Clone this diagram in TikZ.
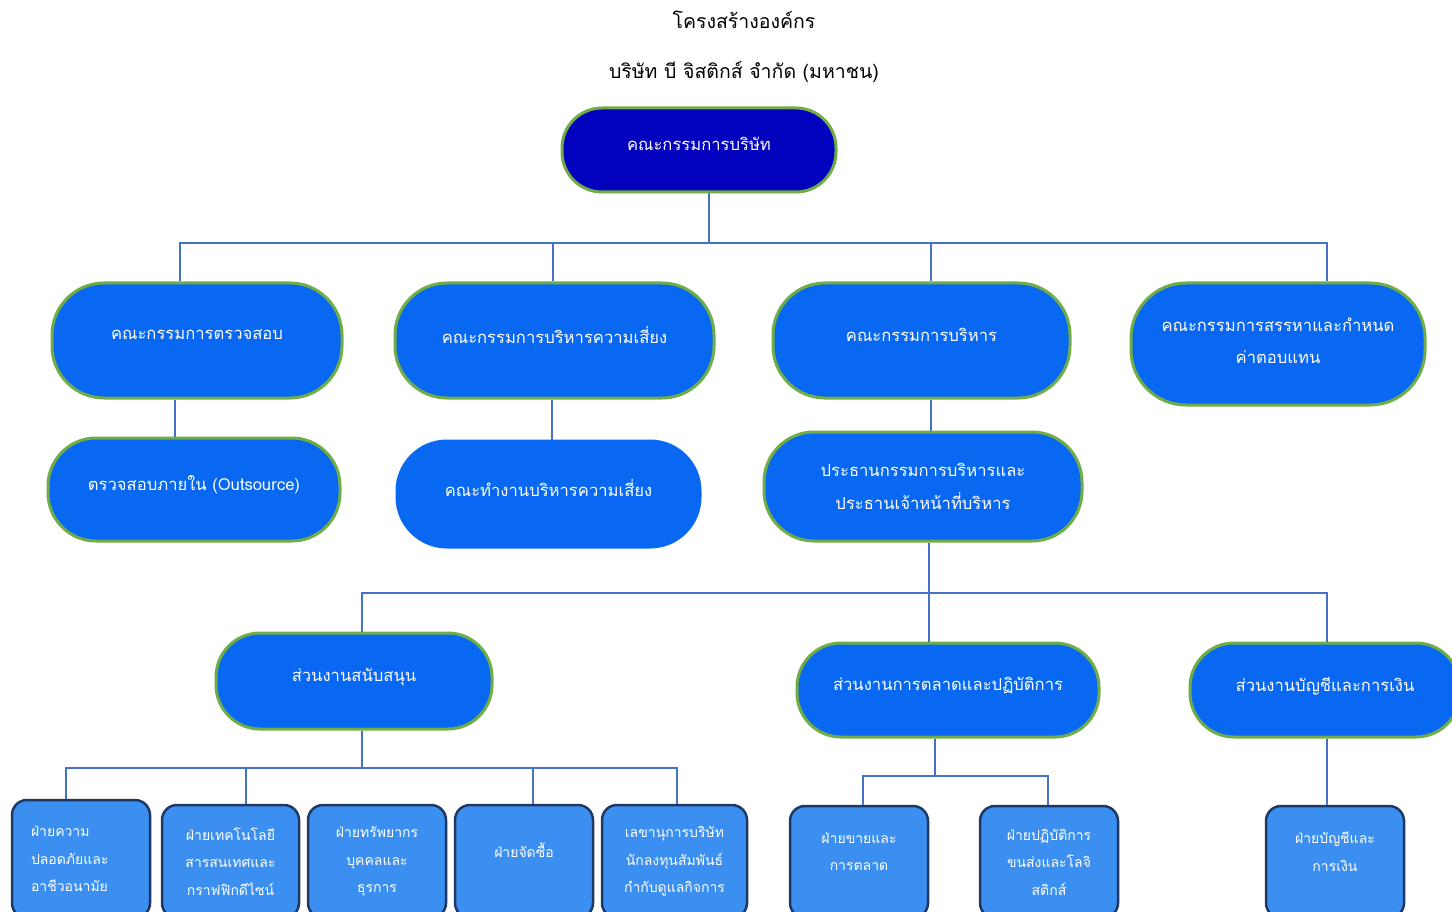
\documentclass[tikz,border=0pt]{standalone}
\usepackage{fontspec}
\setmainfont[Script=Thai]{Loma}
\definecolor{connblue}{HTML}{4472C4}
\definecolor{pillgreen}{HTML}{70AD47}
\definecolor{pillblue}{HTML}{0868F2}
\definecolor{boardblue}{HTML}{0202BE}
\definecolor{unitblue}{HTML}{3B8FF0}
\definecolor{unitborder}{HTML}{1F3864}
\begin{document}
\begin{tikzpicture}[x=1pt,y=-1pt,
  conn/.style={draw=connblue,line width=2pt},
  pill/.style={draw=pillgreen,line width=3pt,fill=pillblue,rounded corners=#1,
    text=white,align=center,inner sep=0pt,font=\fontsize{16.6}{31.5}\selectfont},
  pill/.default=45pt,
  lift/.style={text depth=12pt},
  unit/.style={draw=unitborder,line width=2.5pt,fill=unitblue,rounded corners=15pt,
    text=white,align=center,inner sep=0pt,minimum width=138pt,font=\fontsize{14}{27.5}\selectfont},
  title/.style={text=black,font=\fontsize{19.5}{22}\selectfont}]
\useasboundingbox (0,0) rectangle (1452,912);
\clip (0,0) rectangle (1452,912);
\fill[white] (0,0) rectangle (1452,912);

% titles
\node[title] (t1) at (744,20) {โครงสร้างองค์กร};
\node[title] (t2) at (744,72) {บริษัท บี จิสติกส์ จำกัด (มหาชน)};

% board
\node[pill=40pt,lift,fill=boardblue,minimum width=274pt,minimum height=84pt] (board) at (699,150) {คณะกรรมการบริษัท};

% row 2
\node[pill=52pt,lift,minimum width=290pt,minimum height=115pt] (b1) at (197,340.5) {คณะกรรมการตรวจสอบ};
\node[pill=52pt,lift,minimum width=319pt,minimum height=115pt] (b2) at (554.5,340.5) {คณะกรรมการบริหารความเสี่ยง};
\node[pill=52pt,lift,minimum width=297pt,minimum height=115pt] (b3) at (921.5,340.5) {คณะกรรมการบริหาร};
\node[pill=55pt,minimum width=294pt,minimum height=122pt,text depth=7pt] (b4) at (1278,344) {คณะกรรมการสรรหาและกำหนด\\ค่าตอบแทน};

% row 3
\node[pill=48pt,lift,minimum width=292pt,minimum height=103pt] (c1) at (194,489.5) {ตรวจสอบภายใน (Outsource)};
\node[pill=50pt,lift,draw=pillblue,minimum width=303pt,minimum height=106pt] (c2) at (548.5,494) {คณะทำงานบริหารความเสี่ยง};
\node[pill=50pt,minimum width=318pt,minimum height=109pt,font=\fontsize{16.6}{33}\selectfont] (c3) at (923,486.5) {ประธานกรรมการบริหารและ\\ประธานเจ้าหน้าที่บริหาร};

% row 4
\node[pill=44pt,lift,minimum width=276pt,minimum height=96pt] (d1) at (354,681) {ส่วนงานสนับสนุน};
\node[pill=44pt,lift,minimum width=302pt,minimum height=94pt] (d2) at (948,690) {ส่วนงานการตลาดและปฏิบัติการ};
\node[pill=44pt,lift,minimum width=270pt,minimum height=94pt] (d3) at (1325,690) {ส่วนงานบัญชีและการเงิน};

% row 5
\node[unit,minimum height=118pt,text width=100pt,align=left] (e1) at (81,859) {ฝ่ายความ\\ปลอดภัยและ\\อาชีวอนามัย};
\node[unit,minimum width=137pt,minimum height=113pt] (e2) at (230.5,861.5) {ฝ่ายเทคโนโลยี\\สารสนเทศและ\\กราฟฟิกดีไซน์};
\node[unit,minimum height=113pt] (e3) at (377,861.5) {ฝ่ายทรัพยากร\\บุคคลและ\\ธุรการ};
\node[unit,minimum height=113pt,text depth=22pt] (e4) at (524,861.5) {ฝ่ายจัดซื้อ};
\node[unit,minimum width=145pt,minimum height=113pt] (e5) at (674.5,861.5) {เลขานุการบริษัท\\นักลงทุนสัมพันธ์\\กำกับดูแลกิจการ};
\node[unit,minimum height=112pt,text depth=21pt] (f1) at (859,862) {ฝ่ายขายและ\\การตลาด};
\node[unit,minimum height=112pt] (f2) at (1049,862) {ฝ่ายปฏิบัติการ\\ขนส่งและโลจิ\\สติกส์};
\node[unit,minimum height=112pt,text depth=21pt] (g1) at (1335,862) {ฝ่ายบัญชีและ\\การเงิน};

% connectors: board -> row 2
\coordinate (jb) at (709,243);
\coordinate (j1) at (180,243);
\coordinate (j2) at (553,243);
\coordinate (j3) at (931,243);
\coordinate (j4) at (1327,243);
\draw[conn] (board.south -| jb) -- (jb);
\draw[conn] (j1 |- b1.north) -- (j1) -- (j4) -- (j4 |- b4.north);
\draw[conn] (j2) -- (j2 |- b2.north);
\draw[conn] (j3) -- (j3 |- b3.north);

% row 2 -> row 3
\coordinate (k1) at (175,398);
\coordinate (k2) at (552,398);
\coordinate (k3) at (931,398);
\draw[conn] (k1 |- b1.south) -- (k1 |- c1.north);
\draw[conn] (k2 |- b2.south) -- (k2 |- c2.north);
\draw[conn] (k3 |- b3.south) -- (k3 |- c3.north);

% CEO -> row 4
\coordinate (jc) at (929,593);
\coordinate (m1) at (362,593);
\coordinate (m3) at (1327,593);
\draw[conn] (c3.south -| jc) -- (jc);
\draw[conn] (m1 |- d1.north) -- (m1) -- (m3) -- (m3 |- d3.north);
\draw[conn] (jc) -- (jc |- d2.north);

% support -> units
\coordinate (sd) at (362,768);
\coordinate (s1) at (66,768);
\coordinate (s2) at (246,768);
\coordinate (s4) at (533,768);
\coordinate (s5) at (677,768);
\draw[conn] (d1.south -| sd) -- (sd);
\draw[conn] (s1 |- e1.north) -- (s1) -- (s5) -- (s5 |- e5.north);
\draw[conn] (s2) -- (s2 |- e2.north);
\draw[conn] (s4) -- (s4 |- e4.north);

% marketing -> units
\coordinate (md) at (935,776);
\coordinate (n1) at (863,776);
\coordinate (n2) at (1048,776);
\draw[conn] (d2.south -| md) -- (md);
\draw[conn] (n1 |- f1.north) -- (n1) -- (n2) -- (n2 |- f2.north);

% finance -> unit
\coordinate (fd) at (1327,737);
\draw[conn] (d3.south -| fd) -- (fd |- g1.north);
\end{tikzpicture}
\end{document}
